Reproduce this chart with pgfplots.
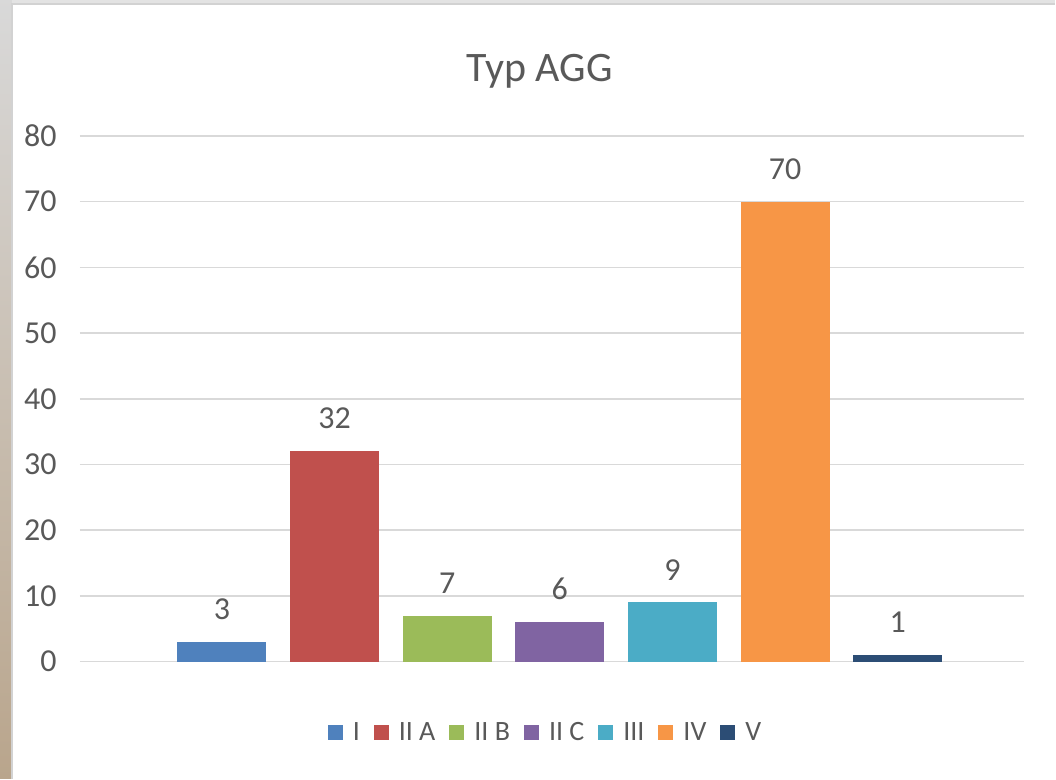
\documentclass[border=0pt]{standalone}
\usepackage{fontspec}
\setmainfont{Carlito}
\usepackage{pgfplots}
\pgfplotsset{compat=1.18}
\definecolor{txt}{HTML}{595959}
\definecolor{gridc}{HTML}{D9D9D9}
\definecolor{cI}{HTML}{4F81BD}
\definecolor{cIIA}{HTML}{C0504D}
\definecolor{cIIB}{HTML}{9BBB59}
\definecolor{cIIC}{HTML}{8064A2}
\definecolor{cIII}{HTML}{4BACC6}
\definecolor{cIV}{HTML}{F79646}
\definecolor{cV}{HTML}{2C4D75}
\begin{document}
\begin{tikzpicture}
\fill[gray!22] (0,0) rectangle (528pt,389.5pt);
\shade[top color=gray!30, bottom color={rgb,255:red,185;green,165;blue,140}] (0,0) rectangle (6pt,389.5pt);
\fill[white] (6pt,0) rectangle (528pt,387.5pt);
\draw[gray!35, line width=0.6pt] (6pt,0)--(6pt,387.5pt)--(528pt,387.5pt);
\begin{axis}[
  at={(40pt,58.5pt)}, anchor=south west,
  scale only axis, width=472.5pt, height=263pt,
  xmin=-1.26, xmax=7.125, ymin=0, ymax=80,
  ytick={0,10,...,80}, xtick=\empty,
  axis line style={draw=none},
  ymajorgrids, grid style={color=gridc, line width=0.8pt},
  major tick length=0pt,
  /pgf/number format/assume math mode=true,
  yticklabel style={font=\fontsize{16}{19}\selectfont, text=txt, inner sep=0pt, xshift=-11.5pt},
  title={Typ AGG},
  title style={font=\fontsize{21}{25}\selectfont, text=txt, at={(0.487,1.1)}, anchor=center},
  ybar, bar shift=0pt, bar width=0.79,
  clip=false,
  nodes near coords,
  every node near coord/.append style={font=\fontsize{16}{19}\selectfont, text=txt, inner sep=0pt, anchor=south, yshift=11pt},
  legend columns=-1,
  legend style={draw=none, fill=none, at={(0.494,-0.135)}, anchor=center,
    font=\fontsize{14}{17}\selectfont, text=txt,
    /tikz/every odd column/.append style={column sep=3pt},
    /tikz/every even column/.append style={column sep=5pt}},
  legend image code/.code={\fill[#1,draw=none] (0pt,-3.75pt) rectangle (7.5pt,3.75pt);},
]
\addplot[fill=cI, draw=none] coordinates {(0,3)};
\addplot[fill=cIIA, draw=none] coordinates {(1,32)};
\addplot[fill=cIIB, draw=none] coordinates {(2,7)};
\addplot[fill=cIIC, draw=none] coordinates {(3,6)};
\addplot[fill=cIII, draw=none] coordinates {(4,9)};
\addplot[fill=cIV, draw=none] coordinates {(5,70)};
\addplot[fill=cV, draw=none] coordinates {(6,1)};
\legend{I, II A, II B, II C, III, IV, V}
\end{axis}
\end{tikzpicture}
\end{document}
